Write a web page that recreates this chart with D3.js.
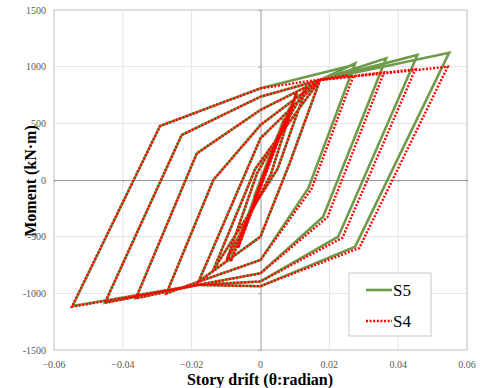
<!DOCTYPE html>
<html>
<head>
<meta charset="utf-8">
<script src="https://cdn.jsdelivr.net/npm/d3@7"></script>
<style>
  body { margin: 0; background: #fff; }
  svg text { font-family: "Liberation Serif", "DejaVu Serif", serif; }
</style>
</head>
<body>
<div class="canvas"></div>
<script>
/* hysteresis curves, S5 vs S4 */

// S5 path (story drift, moment)
var driftS5 = [0, 0.002, -0.002, 0.0035, -0.0035, 0.005, -0.005, 0.0068, -0.0068,
    0.0086, -0.0089,
    0.0105, 0.003, -0.0098, -0.001,
    0.0134, 0.005, -0.0137, -0.0015,
    0.0173, 0.0085, 0, -0.018, 0, 0.0173,
    0.0275, 0.0139, 0, -0.018, -0.0273, -0.0137, 0, 0.0173,
    0.0365, 0.0182, 0, -0.018, -0.0362, -0.0185, 0, 0.0173,
    0.0456, 0.0226, 0, -0.018, -0.0452, -0.0229, 0, 0.0173,
    0.0548, 0.0275, 0, -0.018, -0.0546, -0.0292, 0, 0.0265];
var momentS5 = [0, 150, -160, 280, -300, 400, -440, 540, -600,
    647, -720,
    770, 50, -706, 60,
    823, 100, -794, 100,
    882, 150, -500, -897, 368, 882,
    1030, -73, -706, -897, -1000, 0, 485, 882,
    1074, -324, -823, -925, -1044, 235, 618, 882,
    1103, -500, -895, -925, -1083, 397, 735, 882,
    1123, -588, -937, -925, -1112, 476, 809, 1010];

// S4 path
var driftS4 = [0, 0.0023, -0.0017, 0.0038, -0.0032, 0.0053, -0.0047, 0.0071, -0.0065,
    0.0089, -0.0086,
    0.0105, 0.003, -0.0098, -0.001,
    0.0134, 0.005, -0.0137, -0.0015,
    0.0173, 0.0085, 0, -0.018, 0, 0.0173,
    0.027, 0.0148, 0, -0.018, -0.0273, -0.0137, 0, 0.0173,
    0.0359, 0.0194, 0, -0.018, -0.0362, -0.0185, 0, 0.0173,
    0.045, 0.0238, 0, -0.018, -0.0452, -0.0229, 0, 0.0173,
    0.0544, 0.0287, 0, -0.018, -0.0548, -0.0292, 0, 0.0255];
var momentS4 = [0, 150, -160, 280, -300, 400, -440, 540, -600,
    647, -720,
    770, 50, -706, 60,
    823, 100, -794, 100,
    882, 150, -500, -897, 368, 882,
    918, -80, -706, -897, -1000, 0, 485, 882,
    950, -330, -823, -925, -1044, 235, 618, 882,
    977, -510, -895, -925, -1083, 397, 735, 882,
    1000, -600, -937, -925, -1118, 476, 809, 925];

var xTicks = [-0.06, -0.04, -0.02, 0, 0.02, 0.04, 0.06];
var yTicks = [-1500, -1000, -500, 0, 500, 1000, 1500];
var seriesNames = ['S5', 'S4'];

var W = 481, H = 388;
var plot = {l: 54, r: 467, t: 10, b: 350};
var serif = 'Liberation Serif, DejaVu Serif, serif';

var svg = d3.select('.canvas')
    .append('svg')
    .attr('width', W)
    .attr('height', H);

var x = d3.scaleLinear().domain([-0.06, 0.06]).range([plot.l, plot.r]);
var y = d3.scaleLinear().domain([-1500, 1500]).range([plot.b, plot.t]);

// grid
var grid = svg.append('g');
grid.selectAll('.gx')
    .data(xTicks.filter(function(d){ return d !== 0; }))
    .enter().append('line')
    .attr('x1', function(d){ return x(d); })
    .attr('x2', function(d){ return x(d); })
    .attr('y1', plot.t).attr('y2', plot.b)
    .style('stroke', '#e3e3e3').style('stroke-width', 1);
grid.selectAll('.gy')
    .data(yTicks.filter(function(d){ return d !== 0; }))
    .enter().append('line')
    .attr('x1', plot.l).attr('x2', plot.r)
    .attr('y1', function(d){ return y(d); })
    .attr('y2', function(d){ return y(d); })
    .style('stroke', '#e3e3e3').style('stroke-width', 1);

// plot frame
svg.append('rect')
    .attr('x', plot.l).attr('y', plot.t)
    .attr('width', plot.r - plot.l).attr('height', plot.b - plot.t)
    .style('fill', 'none').style('stroke', '#d4d4d4').style('stroke-width', 1.3);

// zero axes with small ticks, labels sit at the frame edge
var xAxis = d3.axisBottom(x).tickValues(xTicks).tickSize(2).tickSizeOuter(0).tickFormat('');
var yAxis = d3.axisLeft(y).tickValues(yTicks).tickSize(2).tickSizeOuter(0).tickFormat('');
svg.append('g')
    .attr('transform', 'translate(0,' + y(0) + ')')
    .call(xAxis)
    .call(function(g){ g.selectAll('path,line').style('stroke', '#9a9a9a'); });
svg.append('g')
    .attr('transform', 'translate(' + x(0) + ',0)')
    .call(yAxis)
    .call(function(g){ g.selectAll('path,line').style('stroke', '#9a9a9a'); });

svg.selectAll('.xl')
    .data(xTicks)
    .enter().append('text')
    .attr('x', function(d){ return x(d); })
    .attr('y', plot.b + 18)
    .attr('text-anchor', 'middle')
    .attr('font-family', serif)
    .style('font-size', '10px').style('fill', '#595959')
    .text(function(d){ return d === 0 ? '0' : d3.format('.2f')(d); });

svg.selectAll('.yl')
    .data(yTicks)
    .enter().append('text')
    .attr('x', plot.l - 8)
    .attr('y', function(d){ return y(d) + 3.5; })
    .attr('text-anchor', 'end')
    .attr('font-family', serif)
    .style('font-size', '10px').style('fill', '#595959')
    .text(function(d){ return d; });

// axis titles
svg.append('text')
    .attr('x', 260).attr('y', 385)
    .attr('text-anchor', 'middle')
    .attr('font-family', serif)
    .style('font-size', '16px').style('font-weight', 'bold')
    .text('Story drift (\u03b8:radian)');
svg.append('text')
    .attr('transform', 'translate(36,181) rotate(-90)')
    .attr('text-anchor', 'middle')
    .attr('font-family', serif)
    .style('font-size', '16px').style('font-weight', 'bold')
    .text('Moment (kN\u00b7m)');

// curves
var line = d3.line()
    .x(function(d){ return x(d[0]); })
    .y(function(d){ return y(d[1]); });

var s5 = d3.zip(driftS5, momentS5);
var s4 = d3.zip(driftS4, momentS4);

svg.append('path')
    .datum(s5)
    .attr('d', line)
    .style('fill', 'none')
    .style('stroke', '#6e9a4a')
    .style('stroke-width', 2.6)
    .style('stroke-linejoin', 'miter');

svg.append('path')
    .datum(s4)
    .attr('d', line)
    .style('fill', 'none')
    .style('stroke', '#ff0000')
    .style('stroke-width', 2.4)
    .style('stroke-dasharray', '2,1.6');

// legend
var lg = svg.append('g');
lg.append('rect')
    .attr('x', 349).attr('y', 273)
    .attr('width', 82).attr('height', 63)
    .style('fill', '#fff').style('stroke', '#c8c8c8').style('stroke-width', 1);
var lgStyles = [
    {stroke: '#6e9a4a', dash: null},
    {stroke: '#ff0000', dash: '2,1.6'}
];
seriesNames.forEach(function(name, i){
    var ly = 290 + i * 31;
    lg.append('line')
        .attr('x1', 366).attr('x2', 392)
        .attr('y1', ly).attr('y2', ly)
        .style('stroke', lgStyles[i].stroke)
        .style('stroke-width', 2.6)
        .style('stroke-dasharray', lgStyles[i].dash);
    lg.append('text')
        .attr('x', 393).attr('y', ly + 6)
        .attr('font-family', serif)
        .style('font-size', '17px')
        .text(name);
});
</script>
</body>
</html>
